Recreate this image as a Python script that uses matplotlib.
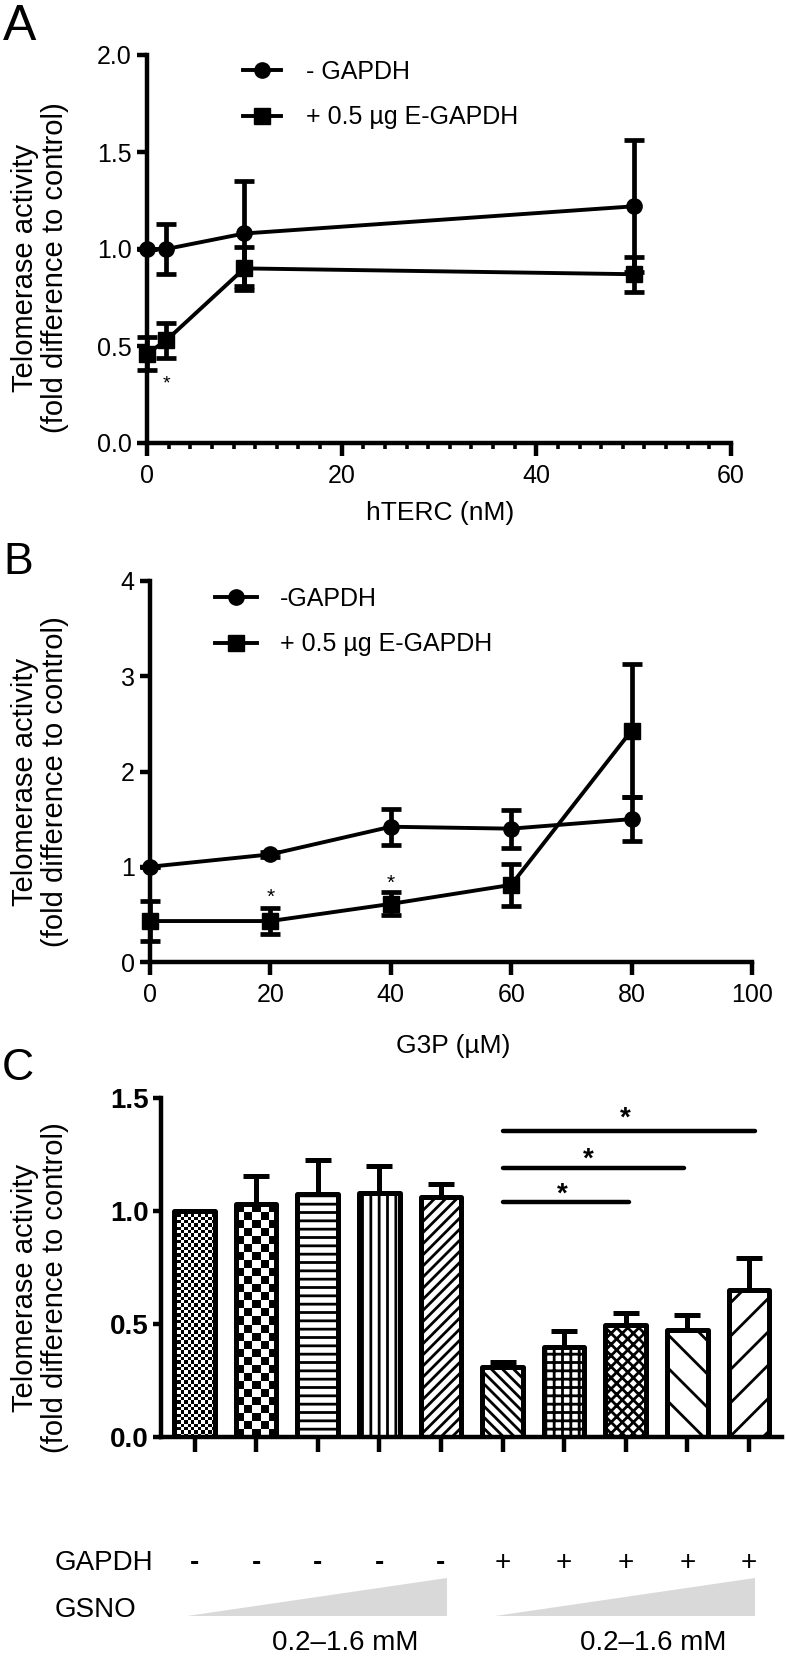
import numpy as np
import matplotlib
matplotlib.use('Agg')
import matplotlib.pyplot as plt
from matplotlib.lines import Line2D
from matplotlib.patches import Polygon
from matplotlib.ticker import AutoMinorLocator, FormatStrFormatter, MultipleLocator
from matplotlib import transforms

plt.rcParams['font.family'] = ['Liberation Sans', 'DejaVu Sans']
plt.rcParams['hatch.linewidth'] = 2.0

# --- dati pannello A: hTERC ---
hterc_nM = [0, 2, 10, 50]
a_minus_mean = [1.0, 1.0, 1.08, 1.22]
a_minus_err = [0.0, 0.13, 0.27, 0.34]
a_plus_mean = [0.46, 0.53, 0.90, 0.87]
a_plus_err = [0.085, 0.09, 0.11, 0.09]
a_star_x = [2]
a_star_y = [0.34]

# --- dati pannello B: G3P ---
g3p_uM = [0, 20, 40, 60, 80]
b_minus_mean = [1.0, 1.13, 1.42, 1.40, 1.50]
b_minus_err = [0.0, 0.03, 0.19, 0.20, 0.23]
b_plus_mean = [0.43, 0.43, 0.61, 0.81, 2.43]
b_plus_err = [0.21, 0.14, 0.12, 0.22, 0.70]
b_star_x = [20, 40]
b_star_y = [0.74, 0.88]

# --- dati pannello C: GSNO ---
c_gapdh = ['-', '-', '-', '-', '-', '+', '+', '+', '+', '+']
c_mean = [1.0, 1.03, 1.075, 1.08, 1.06, 0.31, 0.40, 0.495, 0.475, 0.65]
c_err = [0.0, 0.125, 0.15, 0.12, 0.06, 0.02, 0.07, 0.055, 0.065, 0.14]
c_hatch = ['checker_fine', 'checker', '--', '||', '///', '\\\\\\', '++', 'xxx', '\\', '/']
c_sig_start = [5, 5, 5]
c_sig_end = [7.05, 7.95, 9.1]
c_sig_y = [1.04, 1.19, 1.355]
c_star_x = [5.97, 6.4, 6.99]
c_star_y = [1.107, 1.262, 1.445]
gsno_groups = [(0, 4), (5, 9)]
gsno_label = '0.2–1.6 mM'

# --- figura ---
W, H = 786, 1661
fig = plt.figure(figsize=(W / 100, H / 100), dpi=100)


def px_axes(left, right, top, bottom):
    return fig.add_axes([left / W, 1 - bottom / H, (right - left) / W, (bottom - top) / H])


def style_axes(ax, ylen=7, xlen=9):
    for s in ['top', 'right']:
        ax.spines[s].set_visible(False)
    for s in ['left', 'bottom']:
        ax.spines[s].set_linewidth(3.2)
    ax.tick_params(axis='y', which='major', direction='out', length=ylen, width=3.2, labelsize=18, pad=4)
    ax.tick_params(axis='x', which='major', direction='out', length=xlen, width=3.2, labelsize=18, pad=6)
    ax.tick_params(which='minor', direction='out', length=4.5, width=2.6)


def draw_series(ax, x, y, err, marker, ms):
    cont = ax.errorbar(x, y, yerr=err, fmt='-', marker=marker, color='black', lw=2.8, ms=ms,
                       elinewidth=3.4, capsize=7, capthick=3.4, zorder=3)
    for art in cont.get_children():
        art.set_clip_on(False)


def ylabel(ycenter):
    fig.text(40 / W, 1 - ycenter / H, 'Telomerase activity\n(fold difference to control)',
             rotation=90, ha='center', va='center', fontsize=21, linespacing=1.1,
             multialignment='center')


# --- pannello A ---
axA = px_axes(147, 731, 55, 443)
draw_series(axA, hterc_nM, a_minus_mean, a_minus_err, 'o', 11)
draw_series(axA, hterc_nM, a_plus_mean, a_plus_err, 's', 12)
axA.set_xlim(0, 60)
axA.set_ylim(0, 2.0)
axA.xaxis.set_major_locator(MultipleLocator(20))
axA.xaxis.set_minor_locator(AutoMinorLocator(9))
axA.yaxis.set_major_locator(MultipleLocator(0.5))
axA.yaxis.set_major_formatter(FormatStrFormatter('%.1f'))
style_axes(axA)
for sx, sy in zip(a_star_x, a_star_y):
    axA.annotate('*', (sx, sy), xytext=(0, -8), textcoords='offset points',
                 ha='center', va='baseline', fontsize=14)
handles = [Line2D([], [], color='black', lw=2.8, marker='o', ms=11),
           Line2D([], [], color='black', lw=2.8, marker='s', ms=12)]
axA.legend(handles, ['- GAPDH', '+ 0.5 µg E-GAPDH'], loc='upper left',
           bbox_to_anchor=(243 / W, 1 - 60 / H), bbox_transform=fig.transFigure,
           frameon=False, fontsize=18, handlelength=1.5, handletextpad=1.0,
           labelspacing=0.85, borderpad=0, borderaxespad=0)
fig.text(440 / W, 1 - 513 / H, 'hTERC (nM)', ha='center', va='center', fontsize=19)
ylabel(268)
fig.text(20 / W, 1 - 27 / H, 'A', ha='center', va='center', fontsize=36)

# --- pannello B ---
axB = px_axes(150, 752, 581, 962)
draw_series(axB, g3p_uM, b_minus_mean, b_minus_err, 'o', 11)
draw_series(axB, g3p_uM, b_plus_mean, b_plus_err, 's', 12)
axB.set_xlim(0, 100)
axB.set_ylim(0, 4)
axB.xaxis.set_major_locator(MultipleLocator(20))
axB.yaxis.set_major_locator(MultipleLocator(1))
style_axes(axB, ylen=7, xlen=9)
for sx, sy in zip(b_star_x, b_star_y):
    axB.annotate('*', (sx, sy), xytext=(0, -8), textcoords='offset points',
                 ha='center', va='baseline', fontsize=15)
axB.legend(handles, ['-GAPDH', '+ 0.5 µg E-GAPDH'], loc='upper left',
           bbox_to_anchor=(215 / W, 1 - 587 / H), bbox_transform=fig.transFigure,
           frameon=False, fontsize=18, handlelength=1.7, handletextpad=0.9,
           labelspacing=0.85, borderpad=0, borderaxespad=0)
fig.text(453 / W, 1 - 1046 / H, 'G3P (µM)', ha='center', va='center', fontsize=19)
ylabel(782)
fig.text(18 / W, 1 - 562 / H, 'B', ha='center', va='center', fontsize=32)

# --- pannello C ---
axC = px_axes(161, 782, 1098, 1437)
xc = np.arange(len(c_mean))
bars = axC.bar(xc, c_mean, width=0.66, color='white', edgecolor='black', linewidth=3.6,
               zorder=2, joinstyle='round')
axC.set_ylim(0, 1.5)
xl = (-0.544, 9.537)
axC.set_xlim(*xl)
px_per_x = (782 - 161) / (xl[1] - xl[0])
px_per_y = (1437 - 1098) / 1.5
for bar, h in zip(bars, c_hatch):
    if h.startswith('checker'):
        cell = 3.3 if h == 'checker_fine' else 8.0
        x0, w, hh = bar.get_x(), bar.get_width(), bar.get_height()
        nx = max(1, int(round(w * px_per_x / cell)))
        ny = max(1, int(round(hh * px_per_y / cell)))
        img = (np.add.outer(np.arange(ny), np.arange(nx)) % 2).astype(float)
        im = axC.imshow(img, cmap='gray', extent=[x0, x0 + w, 0, hh], aspect='auto',
                        interpolation='nearest', zorder=1.9)
        im.set_clip_path(bar)
        bar.set_facecolor('none')
    else:
        bar.set_hatch(h)
axC.errorbar(xc, c_mean, yerr=[np.zeros(len(c_err)), c_err], fmt='none', ecolor='black',
             elinewidth=3.6, capsize=9.5, capthick=3.6, zorder=3)
axC.set_xlim(*xl)
axC.set_ylim(0, 1.5)
axC.set_aspect('auto')
for s, e, y in zip(c_sig_start, c_sig_end, c_sig_y):
    axC.plot([s, e], [y, y], color='black', lw=3.2, solid_capstyle='round', clip_on=False)
for sx, sy in zip(c_star_x, c_star_y):
    axC.annotate('*', (sx, sy), xytext=(0, -11), textcoords='offset points',
                 ha='center', va='baseline', fontsize=20, fontweight='bold')
axC.set_xticks(xc)
axC.set_xticklabels([])
axC.yaxis.set_major_locator(MultipleLocator(0.5))
axC.yaxis.set_major_formatter(FormatStrFormatter('%.1f'))
for s in ['top', 'right']:
    axC.spines[s].set_visible(False)
for s in ['left', 'bottom']:
    axC.spines[s].set_linewidth(3.2)
axC.tick_params(axis='y', direction='out', length=6, width=3.2, labelsize=20, pad=3)
axC.tick_params(axis='x', direction='out', length=11, width=3.2)
for lab in axC.get_yticklabels():
    lab.set_fontweight('bold')
ylabel(1288)
fig.text(18 / W, 1 - 1069 / H, 'C', ha='center', va='center', fontsize=32)

# righe GAPDH / GSNO
trans = transforms.blended_transform_factory(axC.transData, fig.transFigure)
fig.text(55 / W, 1 - 1563 / H, 'GAPDH', ha='left', va='center', fontsize=20)
fig.text(55 / W, 1 - 1610 / H, 'GSNO', ha='left', va='center', fontsize=20)
for xi, g in zip(xc, c_gapdh):
    axC.text(xi, 1 - 1563 / H, g, transform=trans, ha='center', va='center', fontsize=20,
             fontweight='bold' if g == '-' else 'normal', clip_on=False)
for g0, g1 in gsno_groups:
    x0, x1 = g0 - 0.12, g1 + 0.1
    tri = Polygon([(x0, 1 - 1616 / H), (x1, 1 - 1616 / H), (x1, 1 - 1578 / H)],
                  closed=True, transform=trans, facecolor='#d9d9d9', edgecolor='none',
                  clip_on=False)
    axC.add_patch(tri)
    axC.text((x0 + x1) / 2 + 0.45, 1 - 1643 / H, gsno_label, transform=trans,
             ha='center', va='center', fontsize=20, clip_on=False)

fig.savefig('out.png', dpi=100)
